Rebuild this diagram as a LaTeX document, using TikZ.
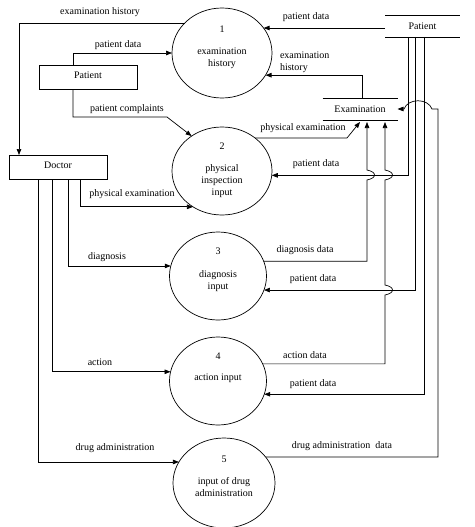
\documentclass[tikz,border=0pt]{standalone}
\usepackage{fontspec}
\setmainfont{Liberation Serif}
\usetikzlibrary{shapes.geometric,arrows.meta}
\begin{document}
\begin{tikzpicture}[x=1pt,y=-1pt,
  every node/.style={font=\fontsize{10}{12}\selectfont, inner sep=0pt, outer sep=0pt},
  proc/.style={ellipse, draw, line width=0.7pt},
  ent/.style={rectangle, draw, line width=0.7pt, minimum width=98pt, minimum height=24pt},
  store/.style={minimum width=75pt, minimum height=22pt},
  ln/.style={line width=0.7pt},
  arr/.style={line width=0.7pt, -{Triangle[length=6pt,width=4.5pt]}}]
\useasboundingbox (0,0) rectangle (474,527);

% processes
\node[proc, minimum width=100pt, minimum height=90pt] (c1) at (222,53) {};
\node[proc, minimum width=100pt, minimum height=88pt] (c2) at (222,171) {};
\node[proc, minimum width=97pt, minimum height=88pt] (c3) at (218,276) {};
\node[proc, minimum width=97pt, minimum height=88pt] (c4) at (218,381) {};
\node[proc, minimum width=102pt, minimum height=90pt] (c5) at (224,483) {};
\node[align=center] (t1) at (222,47) {1\\[10pt]examination\\history};
\node[align=center] (t2) at (222,170) {2\\[10pt]physical\\inspection\\input};
\node[align=center] (t3) at (218,270) {3\\[11pt]diagnosis\\input};
\node[align=center] (t4) at (218,368) {4\\[9pt]action input};
\node[align=center] (t5) at (224,476) {5\\[10pt]input of drug\\administration};

% external entities
\node[ent] (pat) at (88,77) {\raisebox{3pt}{Patient}};
\node[ent] (doc) at (58,167) {\raisebox{3pt}{Doctor}};

% data stores
\node[store] (ps) at (422.5,26) {Patient};
\node[store] (es) at (360,109) {Examination};
\draw[ln] (ps.north west) -- (ps.north east);
\draw[ln] (ps.south west) -- (ps.south east);
\draw[ln] (es.north west) -- (es.north east);
\draw[ln] (es.south west) -- (es.south east);

% flows
\draw[arr] (c1.141) -| ([xshift=-39pt]doc.north);
\node (l1) at (100,12) {examination history};

\draw[arr] ([xshift=-15pt]pat.north) |- (c1.west);
\node (l2) at (118,45) {patient data};

\coordinate (pcb) at (167,117);
\draw[arr] ([xshift=-15pt]pat.south) |- (pcb) -- (c2.131);
\node (l3) at (127,109) {patient complaints};

\draw[arr] (c1.31 -| ps.west) -- (c1.31);
\node (l4) at (306,17) {patient data};

\draw[arr] ([xshift=2pt]es.north) |- (c1.-27);
\node[align=left, anchor=west] (l5) at (280,62) {examination\\history};

\coordinate (pe) at (347,138);
\draw[arr] (c2.45) -- (c2.45 -| pe) -- ([yshift=-2pt]es.south);
\node (l6) at (303,128) {physical examination};

\draw[arr] ([xshift=-14.5pt]ps.south) |- (c2.-5);
\node (l7) at (316,164) {patient data};

\draw[arr] (c3.18) -| (367,180) .. controls (377,178) and (377,172) .. (367,170) -- ([xshift=7pt,yshift=-2pt]es.south);
\node (l8) at (305,250) {diagnosis data};

\draw[arr] ([xshift=-7.5pt]ps.south) |- (c3.-17);
\node (l9) at (313,279) {patient data};

\draw[arr] (c4.21) -| (385,295) .. controls (395,293) and (395,287) .. (385,285) -- (385,180) .. controls (395,178) and (395,172) .. (385,170) -- ([xshift=25pt,yshift=-2pt]es.south);
\node (l10) at (305,355) {action data};

\draw[arr] ([xshift=1.5pt]ps.south) |- (c4.-16);
\node (l11) at (313,384) {patient data};

\coordinate (dd) at (438,109);
\draw[arr] (c5.32) -| (dd) -- (432,109) .. controls (428,98) and (408,98) .. (404,109) -- (es.east);
\node (l12) at (342,446) {drug administration\ \ data};

\draw[arr] ([xshift=22pt]doc.south) |- (c2.231);
\node (l13) at (132,194) {physical examination};

\draw[arr] ([xshift=10pt]doc.south) |- (c3.168);
\node (l14) at (107,257) {diagnosis};

\draw[arr] ([xshift=-6pt]doc.south) |- (c4.169);
\node (l15) at (100,362) {action};

\draw[arr] ([xshift=-20pt]doc.south) |- (c5.155);
\node (l16) at (115,448) {drug administration};
\end{tikzpicture}
\end{document}
